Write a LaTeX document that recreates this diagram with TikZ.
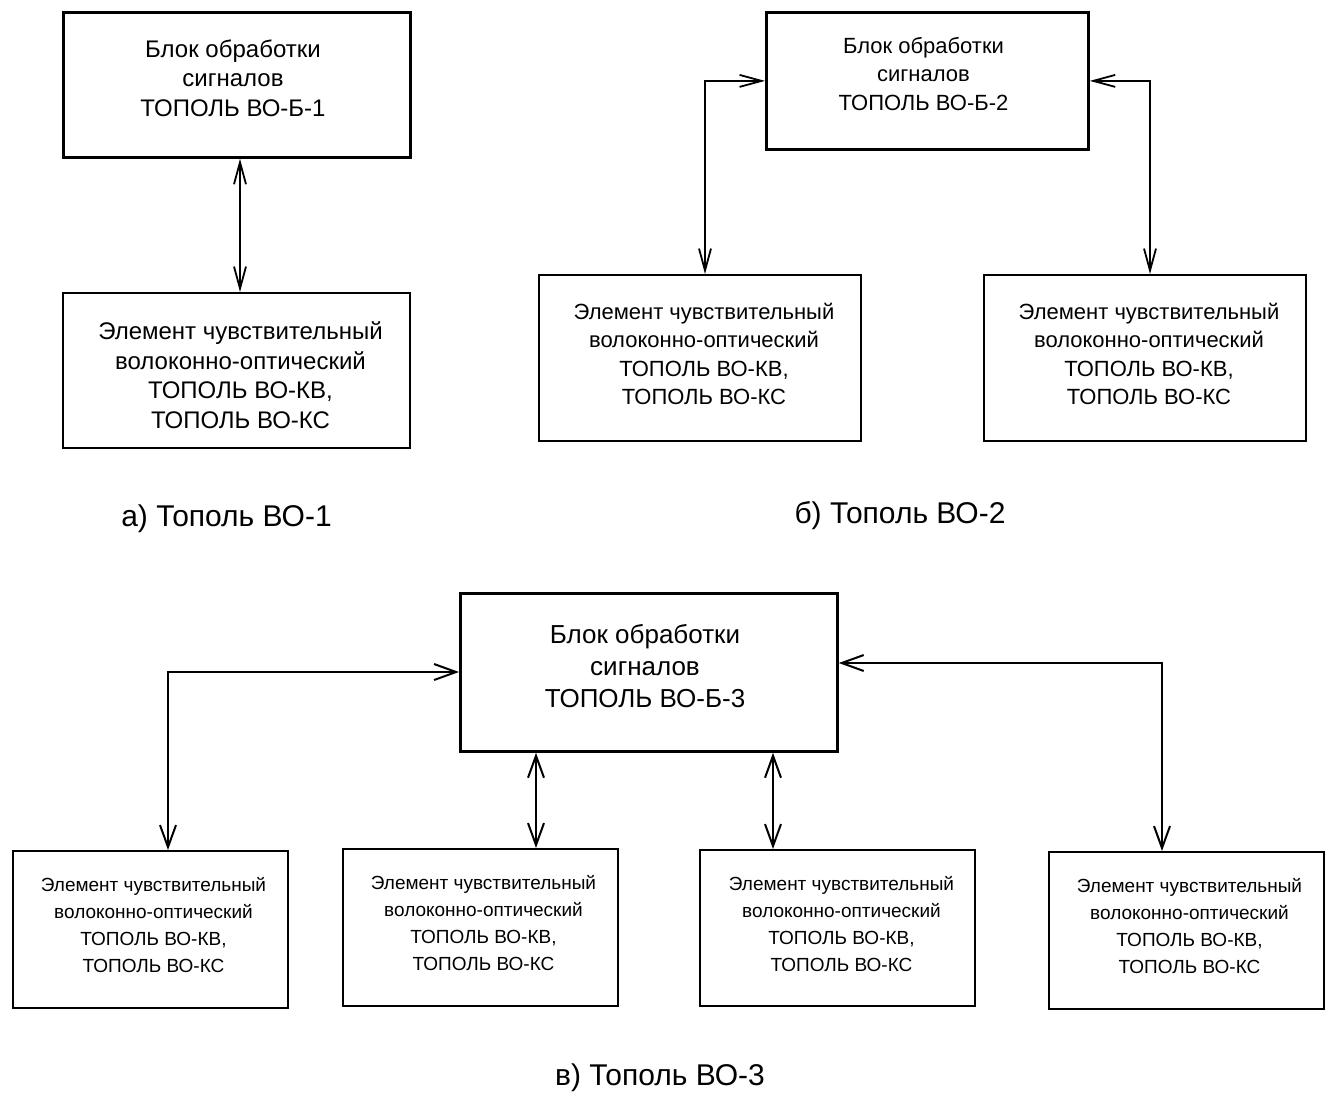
\documentclass[tikz,border=0pt]{standalone}
\usepackage{fontspec}
\setmainfont{Liberation Sans}
\usetikzlibrary{arrows.meta,calc}
\begin{document}
\begin{tikzpicture}[x=1pt,y=-1pt,
  boxthick/.style={draw, line width=2.8pt, rectangle, anchor=north west, inner sep=0pt},
  boxthin/.style={draw, line width=1.8pt, rectangle, anchor=north west, inner sep=0pt},
  txt/.style={align=center, inner sep=0pt},
  fa/.style={font=\fontsize{24}{29.5}\selectfont},
  fb/.style={font=\fontsize{22}{28.5}\selectfont},
  fct/.style={font=\fontsize{26}{32}\selectfont},
  fcb/.style={font=\fontsize{19}{27}\selectfont},
  fcap/.style={font=\fontsize{30}{36}\selectfont},
  conn/.style={line width=1.8pt, {Straight Barb[length=22pt,width=12pt,line width=1.8pt]}-{Straight Barb[length=22pt,width=12pt,line width=1.8pt]}},
  connc/.style={line width=2pt, {Straight Barb[length=22pt,width=16pt,line width=2pt]}-{Straight Barb[length=22pt,width=16pt,line width=2pt]}}
]
\useasboundingbox[fill=white] (0,0) rectangle (1327,1093);

% ---------- panel a ----------
\node[boxthick, minimum width=347pt, minimum height=145pt] (atop) at (62,11) {};
\node[boxthin, minimum width=347pt, minimum height=155pt] (ael) at (62,292) {};
\node[txt, fa] (atopt) at (233,78) {Блок обработки\\сигналов\\ТОПОЛЬ ВО-Б-1};
\node[txt, fa] (aelt) at (240.5,375) {Элемент чувствительный\\волоконно-оптический\\ТОПОЛЬ ВО-КВ,\\ТОПОЛЬ ВО-КС};
\coordinate (ax) at (240,0);
\draw[conn] (ax |- atop.south) -- (ax |- ael.north);
\node[txt, fcap] (acap) at (226.5,519) {а) Тополь ВО-1};

% ---------- panel b ----------
\node[boxthick, minimum width=322pt, minimum height=137pt] (btop) at (765,11) {};
\node[boxthin, minimum width=322pt, minimum height=166pt] (bl) at (538,274) {};
\node[boxthin, minimum width=322pt, minimum height=166pt] (br) at (983,274) {};
\node[txt, fb] (btopt) at (923.5,74) {Блок обработки\\сигналов\\ТОПОЛЬ ВО-Б-2};
\node[txt, fb] (blt) at (704,354) {Элемент чувствительный\\волоконно-оптический\\ТОПОЛЬ ВО-КВ,\\ТОПОЛЬ ВО-КС};
\node[txt, fb] (brt) at (1149,354) {Элемент чувствительный\\волоконно-оптический\\ТОПОЛЬ ВО-КВ,\\ТОПОЛЬ ВО-КС};
\coordinate (bxl) at (705,0);
\coordinate (bxr) at (1150,0);
\draw[conn] (btop.west) -| (bxl |- bl.north);
\draw[conn] (btop.east) -| (bxr |- br.north);
\node[txt, fcap] (bcap) at (900,516) {б) Тополь ВО-2};

% ---------- panel c ----------
\node[boxthick, minimum width=377pt, minimum height=158pt] (ctop) at (459,592) {};
\node[boxthin, minimum width=275pt, minimum height=157pt] (c1) at (12,850) {};
\node[boxthin, minimum width=275pt, minimum height=157pt] (c2) at (342,848) {};
\node[boxthin, minimum width=275pt, minimum height=156pt] (c3) at (699,849) {};
\node[boxthin, minimum width=275pt, minimum height=157pt] (c4) at (1048,851) {};
\node[txt, fct] (ctopt) at (645,666) {Блок обработки\\сигналов\\ТОПОЛЬ ВО-Б-3};
\node[txt, fcb] (c1t) at (153.5,925.5) {Элемент чувствительный\\волоконно-оптический\\ТОПОЛЬ ВО-КВ,\\ТОПОЛЬ ВО-КС};
\node[txt, fcb] (c2t) at (483.5,923) {Элемент чувствительный\\волоконно-оптический\\ТОПОЛЬ ВО-КВ,\\ТОПОЛЬ ВО-КС};
\node[txt, fcb] (c3t) at (841.5,924) {Элемент чувствительный\\волоконно-оптический\\ТОПОЛЬ ВО-КВ,\\ТОПОЛЬ ВО-КС};
\node[txt, fcb] (c4t) at (1189.5,926.5) {Элемент чувствительный\\волоконно-оптический\\ТОПОЛЬ ВО-КВ,\\ТОПОЛЬ ВО-КС};
\coordinate (cx1) at (168,0);
\coordinate (cx2) at (536,0);
\coordinate (cx3) at (773,0);
\coordinate (cx4) at (1162,0);
\coordinate (cyl) at (0,672);
\coordinate (cyr) at (0,663);
\draw[connc] (ctop.west |- cyl) -| (cx1 |- c1.north);
\draw[connc] (ctop.east |- cyr) -| (cx4 |- c4.north);
\draw[connc] (cx2 |- ctop.south) -- (cx2 |- c2.north);
\draw[connc] (cx3 |- ctop.south) -- (cx3 |- c3.north);
\node[txt, fcap] (ccap) at (660,1078) {в) Тополь ВО-3};
\end{tikzpicture}
\end{document}
